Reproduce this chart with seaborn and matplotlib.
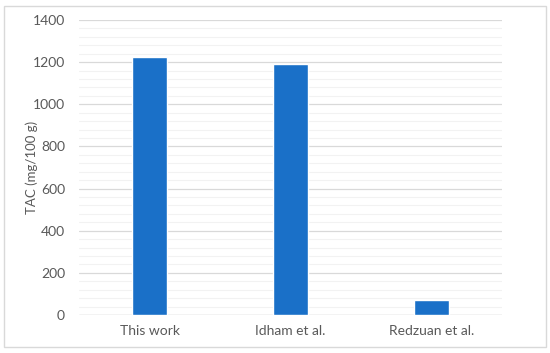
import matplotlib
matplotlib.use("Agg")
import matplotlib.pyplot as plt
import matplotlib.patches as mpatches
from matplotlib.ticker import MultipleLocator
import pandas as pd
import seaborn as sns

# data
categories = ["This work", "Idham et al.", "Redzuan et al."]
tac_values = [1223, 1193, 71]

df = pd.DataFrame({"source": categories, "tac": tac_values})

sns.set_style("white")
plt.rcParams["font.family"] = ["Lato", "DejaVu Sans"]

fig = plt.figure(figsize=(5.5, 3.53), dpi=100)
ax = fig.add_axes([79 / 550, 1 - 315 / 353, 423 / 550, 295 / 353])

sns.barplot(data=df, x="source", y="tac", color="#1A70C8", width=0.25,
            saturation=1, ax=ax, zorder=3)

ax.set_ylim(0, 1400)
ax.set_xlim(-0.5, 2.5)
ax.yaxis.set_major_locator(MultipleLocator(200))
ax.yaxis.set_minor_locator(MultipleLocator(40))
ax.grid(axis="y", which="major", color="#D9D9D9", linewidth=0.9, zorder=0)
ax.grid(axis="y", which="minor", color="#F2F2F2", linewidth=0.8, zorder=0)
for s in ax.spines.values():
    s.set_visible(False)
ax.axhline(0, color="#D9D9D9", linewidth=1.0, zorder=2)

ax.tick_params(axis="both", which="both", length=0, labelsize=10,
               labelcolor="#595959")
ax.tick_params(axis="y", pad=10)
ax.tick_params(axis="x", pad=7)
ax.set_xlabel("")
ax.set_ylabel("TAC (mg/100 g)", fontsize=9.5, color="#595959")
# y label sits between x=27 and x=38 px
ax.yaxis.set_label_coords((38 - 79) / 423, 0.5)

# chart border
fig.patches.append(mpatches.Rectangle((4 / 550, 6 / 353), 542 / 550, 341 / 353,
                                      transform=fig.transFigure, fill=False,
                                      edgecolor="#D9D9D9", linewidth=1.0))

fig.savefig("out.png", dpi=100)
